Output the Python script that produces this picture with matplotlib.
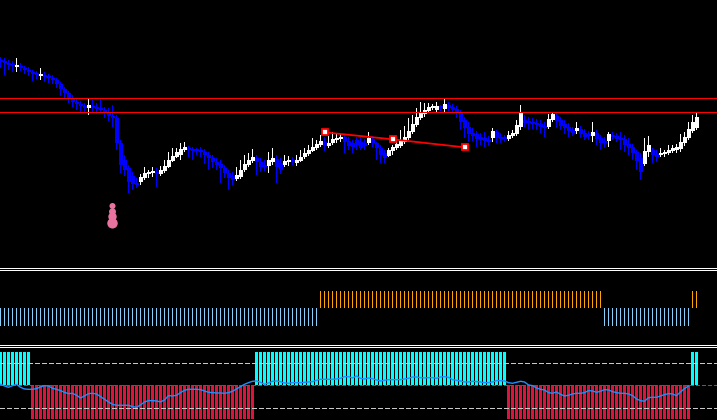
import numpy as np
import matplotlib
matplotlib.use("Agg")
import matplotlib.pyplot as plt

# candle prices (arbitrary price units), one per bar
opens = [190, 188, 187, 186, 183, 184, 182, 180, 178, 176,
         174, 175, 173, 172, 170, 166, 161, 157, 152, 148,
         146, 144, 142, 144, 142, 141, 140, 137, 134, 132,
         107, 90, 82, 74, 67, 68, 72, 76, 77, 78,
         76, 79, 83, 89, 93, 95, 100, 102, 101, 100,
         100, 98, 95, 92, 88, 86, 82, 77, 74, 71,
         73, 80, 85, 89, 92, 88, 85, 84, 88, 91,
         87, 85, 88, 89, 87, 89, 93, 96, 99, 102,
         105, 108, 104, 107, 110, 111, 113, 109, 107, 110,
         108, 107, 107, 111, 107, 102, 97, 94, 99, 102,
         104, 108, 112, 118, 125, 132, 136, 139, 142, 140,
         143, 141, 145, 143, 141, 138, 130, 123, 117, 116,
         113, 112, 110, 112, 118, 113, 112, 111, 114, 116,
         123, 130, 129, 128, 127, 126, 124, 123, 130, 134,
         130, 126, 123, 120, 119, 121, 117, 115, 114, 117,
         112, 109, 109, 115, 114, 112, 111, 106, 103, 98,
         92, 86, 98, 100, 96, 95, 96, 97, 99, 100,
         101, 107, 112, 119, 122]
closes = [188, 187, 185, 184, 185, 182, 180, 178, 176, 175,
          176, 173, 172, 170, 166, 161, 157, 152, 148, 146,
          144, 142, 145, 142, 141, 140, 137, 134, 132, 107,
          85, 80, 68, 66, 65, 73, 77, 77, 78, 76,
          80, 84, 90, 94, 98, 101, 103, 100, 99, 99,
          98, 95, 92, 88, 85, 82, 77, 72, 70, 75,
          80, 86, 90, 93, 88, 83, 83, 90, 92, 83,
          80, 89, 90, 88, 90, 93, 97, 100, 103, 106,
          109, 104, 107, 111, 112, 113, 108, 104, 103, 105,
          102, 104, 112, 107, 102, 95, 92, 100, 103, 106,
          109, 113, 119, 126, 133, 137, 140, 143, 143, 144,
          142, 146, 142, 140, 137, 128, 122, 116, 114, 111,
          110, 109, 108, 119, 112, 111, 111, 115, 117, 125,
          138, 127, 127, 126, 125, 123, 122, 131, 136, 129,
          124, 122, 119, 117, 122, 116, 113, 114, 118, 111,
          107, 107, 116, 113, 111, 110, 105, 102, 97, 89,
          78, 99, 105, 95, 93, 97, 97, 100, 102, 103,
          108, 113, 121, 128, 133]
highs = [193, 192, 190, 189, 192, 187, 184, 183, 180, 179,
         182, 178, 176, 175, 172, 168, 163, 159, 155, 151,
         149, 147, 152, 150, 147, 152, 143, 142, 145, 135,
         110, 95, 85, 78, 72, 76, 83, 80, 83, 82,
         84, 90, 98, 102, 102, 107, 108, 104, 103, 102,
         103, 101, 98, 95, 92, 90, 85, 80, 78, 83,
         90, 95, 97, 101, 95, 92, 90, 98, 102, 95,
         92, 95, 94, 93, 95, 100, 102, 105, 112, 110,
         115, 113, 114, 118, 117, 116, 115, 113, 110, 113,
         113, 111, 118, 114, 108, 105, 100, 102, 105, 110,
         120, 124, 132, 135, 142, 148, 147, 147, 146, 148,
         145, 152, 148, 146, 144, 140, 133, 128, 122, 119,
         117, 118, 114, 122, 120, 117, 115, 119, 120, 130,
         145, 135, 133, 132, 131, 130, 128, 136, 138, 138,
         133, 130, 127, 123, 128, 124, 121, 119, 128, 120,
         115, 113, 118, 118, 117, 118, 115, 112, 106, 100,
         97, 112, 114, 102, 100, 102, 100, 105, 105, 106,
         116, 118, 128, 135, 138]
lows = [182, 175, 180, 178, 178, 179, 176, 174, 169, 171,
        170, 168, 167, 166, 162, 154, 152, 147, 143, 140,
        138, 137, 135, 138, 136, 138, 132, 129, 123, 100,
        77, 74, 57, 60, 62, 65, 70, 72, 73, 63,
        74, 77, 82, 88, 92, 90, 98, 93, 90, 95,
        93, 86, 80, 82, 80, 67, 72, 60, 65, 69,
        71, 78, 83, 87, 75, 78, 79, 77, 85, 67,
        76, 83, 84, 85, 84, 88, 91, 94, 98, 100,
        103, 99, 102, 105, 107, 108, 97, 100, 97, 100,
        100, 100, 105, 103, 90, 87, 87, 93, 95, 100,
        102, 106, 110, 116, 123, 130, 133, 137, 140, 138,
        139, 138, 139, 137, 132, 120, 112, 108, 109, 103,
        105, 103, 104, 108, 107, 107, 108, 109, 112, 114,
        120, 123, 120, 121, 120, 117, 113, 121, 128, 122,
        120, 116, 113, 114, 116, 112, 110, 110, 108, 105,
        100, 102, 103, 110, 108, 100, 98, 95, 90, 80,
        70, 84, 93, 87, 88, 93, 93, 95, 97, 97,
        98, 104, 110, 117, 120]

# horizontal levels and trendline objects on the price chart
levels = [151.5, 137.5]
trend_x = [81, 98, 116]
trend_y = [117.7, 110.7, 102.7]
dots_x = [28, 28, 28, 28]
dots_y = [44, 38.3, 33.3, 26.7]
dots_size = [19, 25, 37, 57]

# middle indicator: run lengths of the two states (1 = blue, 2 = orange)
state_runs = [80, 71, 22, 2]
state_levels = [1, 2, 1, 2]

# lower oscillator: histogram runs and the signal line
hist_runs = [8, 56, 63, 46, 2]
hist_values = [1, -1, 1, -1, 1]
osc_levels = [0.667, -0.667]
osc = [0.03, -0.02, -0.06, -0.01, 0.03, -0.06, -0.11, -0.12, -0.12, -0.10,
       -0.05, -0.01, -0.02, -0.09, -0.12, -0.16, -0.21, -0.25, -0.24, -0.30,
       -0.38, -0.32, -0.25, -0.24, -0.26, -0.34, -0.42, -0.50, -0.57, -0.60,
       -0.60, -0.60, -0.60, -0.64, -0.66, -0.59, -0.50, -0.46, -0.46, -0.47,
       -0.50, -0.44, -0.31, -0.32, -0.30, -0.22, -0.15, -0.12, -0.12, -0.12,
       -0.13, -0.17, -0.21, -0.22, -0.23, -0.23, -0.24, -0.22, -0.18, -0.11,
       -0.04, 0.03, 0.08, 0.12, 0.13, 0.09, 0.03, 0.07, 0.12, 0.13,
       0.11, 0.07, 0.06, 0.08, 0.08, 0.08, 0.09, 0.10, 0.11, 0.15,
       0.18, 0.18, 0.18, 0.18, 0.19, 0.21, 0.26, 0.26, 0.22, 0.28,
       0.21, 0.19, 0.22, 0.20, 0.16, 0.13, 0.15, 0.17, 0.17, 0.17,
       0.17, 0.19, 0.21, 0.25, 0.25, 0.23, 0.22, 0.23, 0.23, 0.21,
       0.25, 0.26, 0.24, 0.17, 0.15, 0.13, 0.10, 0.10, 0.12, 0.11,
       0.10, 0.08, 0.08, 0.10, 0.14, 0.14, 0.13, 0.08, 0.06, 0.09,
       0.12, 0.10, 0.01, -0.01, -0.08, -0.12, -0.14, -0.22, -0.24, -0.20,
       -0.27, -0.32, -0.30, -0.26, -0.24, -0.24, -0.22, -0.16, -0.17, -0.21,
       -0.18, -0.13, -0.14, -0.19, -0.22, -0.24, -0.24, -0.26, -0.31, -0.41,
       -0.46, -0.48, -0.37, -0.36, -0.36, -0.32, -0.28, -0.25, -0.26, -0.31,
       -0.20, -0.10, -0.02]

opens = np.array(opens, dtype=float)
closes = np.array(closes, dtype=float)
highs = np.array(highs, dtype=float)
lows = np.array(lows, dtype=float)
x = np.arange(len(opens))

fig = plt.figure(figsize=(7.17, 4.20), dpi=100, facecolor="black")
H = 420
ONE = 0.25  # one pixel in bar units (4 px per bar)


def panel(top, bottom, ylim):
    ax = fig.add_axes([0, (H - bottom) / H, 1, (bottom - top) / H])
    ax.set_xlim(-0.125, 179.125)
    ax.set_ylim(*ylim)
    ax.axis("off")
    return ax


# --- price chart (1 price unit = 1 pixel)
ax = panel(0, 267, (-17, 250))
up = closes >= opens
ccol = ["#ffffff" if u else "#0000ff" for u in up]
ax.bar(x, highs - lows, width=ONE, bottom=lows, color=ccol, linewidth=0, antialiased=False)
body_lo = np.minimum(opens, closes)
body_h = np.maximum(np.abs(closes - opens), 2)
ax.bar(x, body_h, width=1.0, bottom=body_lo, color=ccol, linewidth=0, antialiased=False)
for lv in levels:
    ax.axhspan(lv - 0.5, lv + 0.5, color="#ff0000", lw=0, antialiased=False)
ax.plot(trend_x, trend_y, color="#ff0000", lw=1.3, zorder=4)
ax.plot(trend_x, trend_y, ls="none", marker="s", ms=4.5,
        mfc="white", mec="#ff0000", mew=1.3, zorder=5)
ax.scatter(dots_x, dots_y, s=dots_size, color="#e8739f", zorder=5, linewidths=0)

# --- trend state bars
ax2 = panel(271, 345, (-0.6, 3.629))
state = np.repeat(state_levels, state_runs)
scol = ["#87cefa" if s == 1 else "#ffa500" for s in state]
ax2.bar(x, np.ones(len(state)), width=ONE, bottom=state - 0.5, color=scol,
        linewidth=0, antialiased=False)

# --- oscillator
ax3 = panel(348, 420, (-1.042, 1.12))
hist = np.repeat(hist_values, hist_runs)
hcol = ["#00ffff" if h > 0 else "#dc143c" for h in hist]
ax3.bar(x, hist, width=0.75, color=hcol, linewidth=0, antialiased=False)
for lv in osc_levels:
    ax3.axhline(lv, color="#c8c8c8", lw=1.0, dashes=(3, 2), antialiased=False)
ax3.axhline(0, color="#e000e0", lw=1.0, dashes=(2.5, 2), antialiased=False)
ax3.plot(np.arange(len(osc)), osc, color="#1e90ff", lw=1.0)

# window separators (double white lines, 1 px each)
for row in [268, 270, 345, 347]:
    fig.patches.append(plt.Rectangle((0, 1 - (row + 1) / H), 1, 1 / H,
                                     transform=fig.transFigure, color="white",
                                     lw=0, antialiased=False))

fig.savefig("out.png", dpi=100, facecolor="black")
